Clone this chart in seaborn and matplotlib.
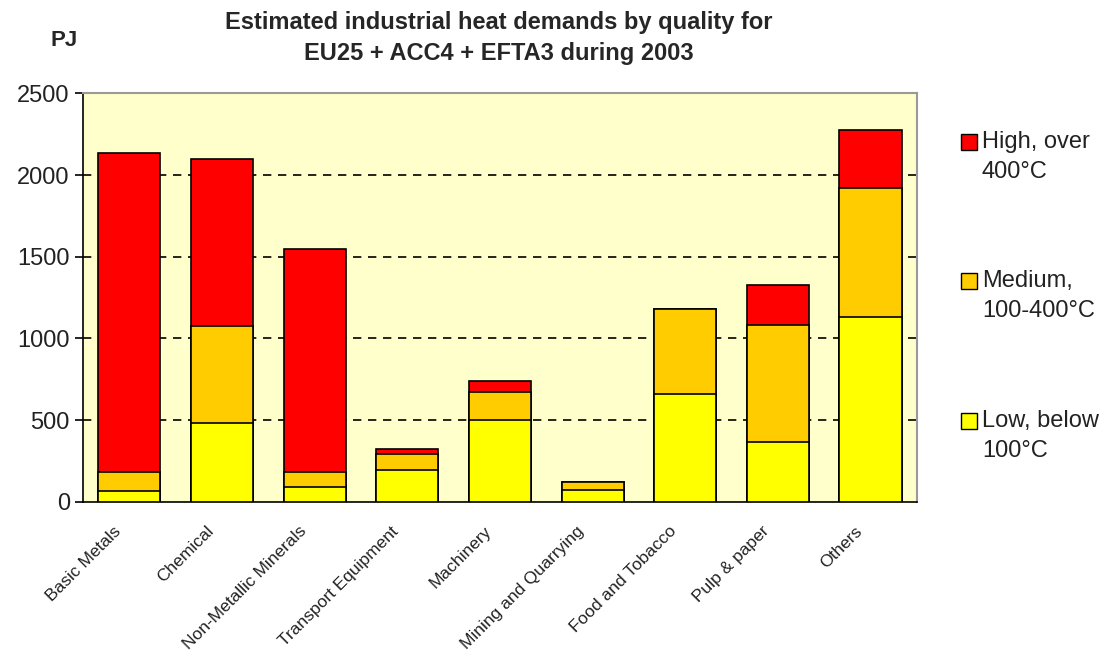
import matplotlib
matplotlib.use("Agg")
import matplotlib.pyplot as plt
import matplotlib.transforms as mtransforms
import seaborn as sns
import numpy as np
from matplotlib.patches import Rectangle

categories = ['Basic Metals', 'Chemical', 'Non-Metallic Minerals', 'Transport Equipment',
              'Machinery', 'Mining and Quarrying', 'Food and Tobacco', 'Pulp & paper', 'Others']
low = [69, 480, 94, 197, 500, 71, 659, 366, 1129]
medium = [114, 594, 89, 94, 175, 53, 521, 718, 793]
high = [1951, 1027, 1363, 32, 67, 0, 0, 242, 356]

yticks = [0, 500, 1000, 1500, 2000, 2500]

c_high = '#FF0000'
c_med = '#FFCC00'
c_low = '#FFFF00'

low_a = np.array(low)
lm = low_a + np.array(medium)
total = lm + np.array(high)

sns.set_style('white')
plt.rcParams['font.family'] = ['Liberation Sans', 'DejaVu Sans']

W, H = 1114, 657
fig = plt.figure(figsize=(W / 100, H / 100), dpi=100)
ax = fig.add_axes([0.0745, 0.236, 0.7485, 0.622])
ax.set_facecolor('#FFFFCC')

# gridlines behind the bars
for v in yticks[1:-1]:
    ax.axhline(v, color='black', linestyle=(0, (5, 4)), linewidth=1.2, zorder=0)

# stacked bars drawn as overlapping cumulative bars
sns.barplot(x=categories, y=total, color=c_high, edgecolor='black', linewidth=1.2,
            width=0.67, saturation=1, ax=ax, zorder=2)
sns.barplot(x=categories, y=lm, color=c_med, edgecolor='black', linewidth=1.2,
            width=0.67, saturation=1, ax=ax, zorder=3)
sns.barplot(x=categories, y=low_a, color=c_low, edgecolor='black', linewidth=1.2,
            width=0.67, saturation=1, ax=ax, zorder=4)

ax.set_xlim(-0.5, len(categories) - 0.5)
ax.set_ylim(0, 2500)
ax.set_yticks(yticks)
ax.set_yticklabels([str(t) for t in yticks], fontsize=17, color='#222222')

# ticks on the category boundaries, labels at the centres
ax.set_xticks(np.arange(len(categories)))
ax.set_xticklabels(categories, rotation=45, ha='right', rotation_mode='anchor',
                   fontsize=12.5, color='#222222')
ax.tick_params(axis='x', length=0, pad=12)
shift = mtransforms.ScaledTranslation(-0.16, -0.05, fig.dpi_scale_trans)
for lab in ax.get_xticklabels():
    lab.set_transform(lab.get_transform() + shift)
ax.set_xticks(np.arange(-0.5, len(categories), 1), minor=True)
ax.tick_params(axis='x', which='minor', direction='out', length=6, width=1.2, color='black')
ax.tick_params(axis='y', direction='out', length=6, width=1.2, color='black', left=True)
ax.set_xlabel('')

for side in ['left', 'bottom']:
    ax.spines[side].set_color('black')
    ax.spines[side].set_linewidth(1.2)
for side in ['top', 'right']:
    ax.spines[side].set_color('#999999')
    ax.spines[side].set_linewidth(1.5)

fig.text(0.448, 1 - 11 / H, 'Estimated industrial heat demands by quality for\nEU25 + ACC4 + EFTA3 during 2003',
         ha='center', va='top', fontsize=17, fontweight='bold', linespacing=1.45)
fig.text(50 / W, 1 - 40 / H, 'PJ', ha='left', va='center', fontsize=16, fontweight='bold')

# legend: square marker aligned with the first line of each label
legend_items = [(c_high, 'High, over\n400°C', 134),
                (c_med, 'Medium,\n100-400°C', 273),
                (c_low, 'Low, below\n100°C', 413)]
for col, txt, ytop in legend_items:
    fig.add_artist(Rectangle((961 / W, 1 - (ytop + 16) / H), 16 / W, 16 / H,
                             transform=fig.transFigure, facecolor=col,
                             edgecolor='black', linewidth=1.0))
    fig.text(982 / W, 1 - (ytop - 3) / H, txt, ha='left', va='top', fontsize=17,
             color='#222222', linespacing=1.45)

fig.savefig('out.png', dpi=100)
